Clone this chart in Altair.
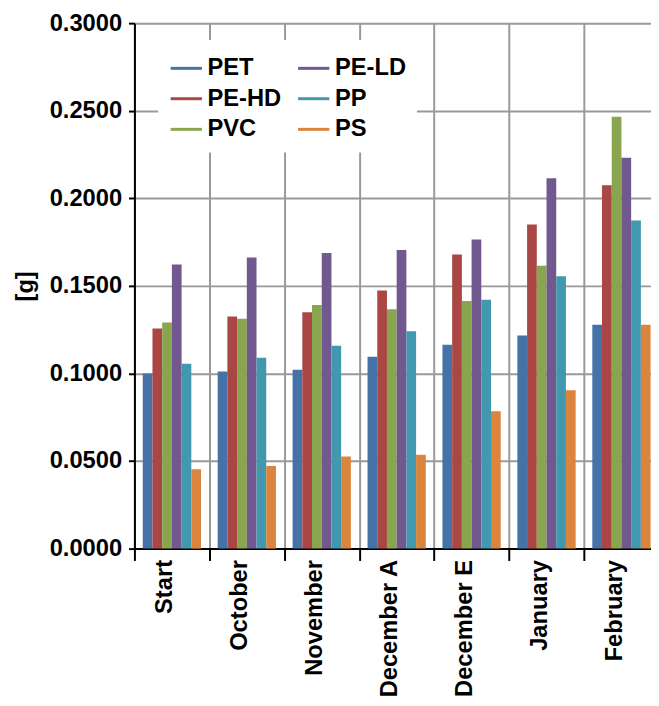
import altair as alt
import pandas as pd

categories = ["Start", "October", "November", "December A", "December E", "January", "February"]
series_order = ["PET", "PE-HD", "PVC", "PE-LD", "PP", "PS"]
series_colors = ["#4572A7", "#AA4643", "#89A54E", "#71588F", "#4198AF", "#DB843D"]

PET   = [0.1000, 0.1011, 0.1021, 0.1096, 0.1164, 0.1217, 0.1278]
PE_HD = [0.1256, 0.1325, 0.1350, 0.1474, 0.1679, 0.1850, 0.2075]
PVC   = [0.1291, 0.1312, 0.1391, 0.1367, 0.1414, 0.1615, 0.2465]
PE_LD = [0.1622, 0.1662, 0.1688, 0.1705, 0.1765, 0.2115, 0.2232]
PP    = [0.1055, 0.1090, 0.1158, 0.1241, 0.1421, 0.1555, 0.1874]
PS    = [0.0453, 0.0472, 0.0526, 0.0536, 0.0784, 0.0904, 0.1278]

y_ticks = [0.0, 0.05, 0.10, 0.15, 0.20, 0.25, 0.30]

series = {"PET": PET, "PE-HD": PE_HD, "PVC": PVC, "PE-LD": PE_LD, "PP": PP, "PS": PS}
rows = []
for name, vals in series.items():
    for c, v in zip(categories, vals):
        rows.append({"month": c, "material": name, "value": v})
df = pd.DataFrame(rows)

FONT = "Liberation Sans"

legend = alt.Legend(title=None, orient="none", legendX=24, legendY=17,
                    columns=2, columnPadding=10, rowPadding=1,
                    symbolType="stroke", symbolSize=1000,
                    symbolStrokeWidth=3, labelOffset=4,
                    labelFontSize=24, labelFont=FONT,
                    labelFontWeight="bold", labelColor="black",
                    fillColor="white", padding=11)
cscale = alt.Scale(domain=series_order, range=series_colors)

chart = alt.Chart(df).mark_bar(strokeWidth=0).encode(
    x=alt.X("month:N", sort=categories, title=None,
            scale=alt.Scale(range=[0, 531], paddingInner=0, paddingOuter=0),
            axis=alt.Axis(labelAngle=-90, labelAlign="right", labelBaseline="alphabetic",
                          labelFontSize=24, labelFont=FONT, labelFontWeight="bold",
                          labelColor="black", labelPadding=-1,
                          tickBand="extent", tickSize=12, tickColor="black", tickWidth=2,
                          domainColor="black", domainWidth=2,
                          grid=True, gridColor="#999999", gridWidth=2)),
    xOffset=alt.XOffset("material:N", sort=series_order,
                        scale=alt.Scale(paddingInner=0, paddingOuter=0.858)),
    y=alt.Y("value:Q", title="[g]",
            scale=alt.Scale(domain=[0, 0.3], nice=False),
            axis=alt.Axis(values=y_ticks, format=".4f",
                          labelFontSize=24, labelFont=FONT, labelFontWeight="bold",
                          labelColor="black", labelPadding=7,
                          tickSize=6, tickColor="black", tickWidth=2,
                          domainColor="black", domainWidth=2,
                          grid=True, gridColor="#999999", gridWidth=2,
                          titleFontSize=24, titleFont=FONT, titleFontWeight="bold",
                          titleColor="black", titlePadding=12)),
    color=alt.Color("material:N", scale=cscale, legend=legend),
    stroke=alt.Stroke("material:N", scale=cscale, legend=legend),
).properties(
    width=523, height=532,
    autosize=alt.AutoSizeParams(type="none"),
    padding={"left": 128, "top": 11, "right": 0, "bottom": 155},
).configure_view(stroke=None)

chart.save("out.html", embed_options={"renderer": "svg", "actions": False})
